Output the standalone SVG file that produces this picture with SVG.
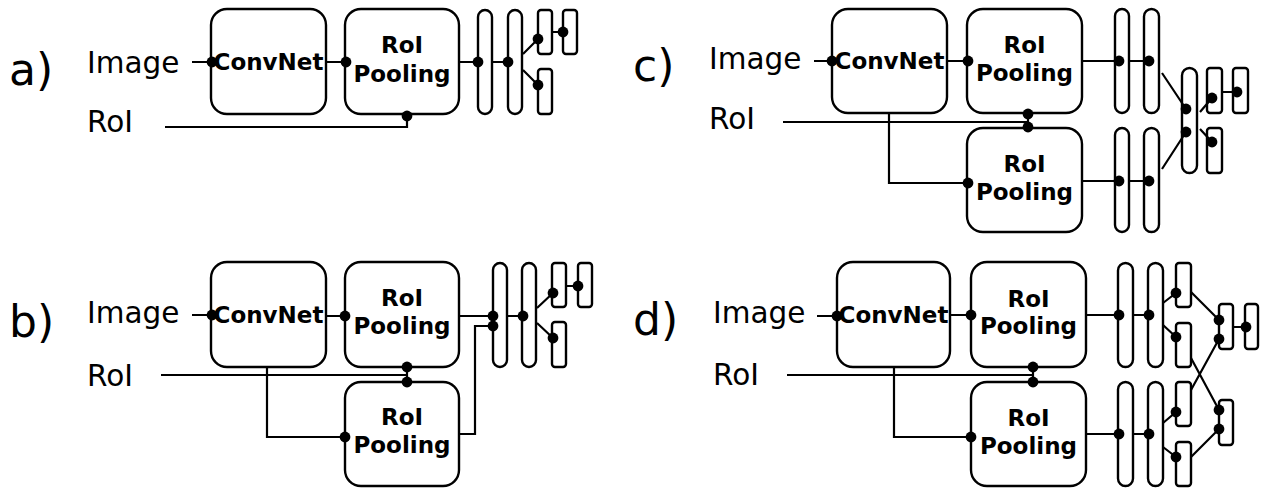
<svg xmlns="http://www.w3.org/2000/svg" width="1268" height="488" viewBox="0 0 1268 488">
  <style>
    .box { fill: #fff; stroke: #000; stroke-width: 2.4; }
    .pill { fill: #fff; stroke: #000; stroke-width: 2.4; }
    .cell { fill: #fff; stroke: #000; stroke-width: 2.4; }
    .wire { fill: none; stroke: #000; stroke-width: 2.2; }
    .dot { fill: #000; }
    .tag { font-family: "DejaVu Sans", "Liberation Sans", sans-serif; font-size: 44px; fill: #000; }
    .lbl { font-family: "DejaVu Sans", "Liberation Sans", sans-serif; font-size: 29.5px; fill: #000; }
    .bt { font-family: "DejaVu Sans", "Liberation Sans", sans-serif; font-weight: bold; font-size: 23px; text-anchor: middle; fill: #000; }
  </style>

  <!-- ===================== a) ===================== -->
  <g id="a">
    <text class="tag" x="9" y="85">a)</text>
    <text class="lbl" x="87" y="73">Image</text>
    <text class="lbl" x="87" y="132">RoI</text>
    <g id="a-convnet"><rect class="box" x="211" y="9" width="115" height="105" rx="16"/><text class="bt" x="268.5" y="70">ConvNet</text></g>
    <g id="a-pool"><rect class="box" x="345" y="9" width="114" height="105" rx="16"/><text class="bt" x="402" y="53">RoI</text><text class="bt" x="402" y="82">Pooling</text></g>
    <g id="a-fc1"><rect class="pill" x="478" y="10" width="14" height="104" rx="7"/></g>
    <g id="a-fc2"><rect class="pill" x="508" y="10" width="14" height="104" rx="7"/></g>
    <g id="a-cls"><rect class="cell" x="538" y="10" width="14" height="44" rx="3"/></g>
    <g id="a-reg"><rect class="cell" x="538" y="69" width="14" height="45" rx="3"/></g>
    <g id="a-out"><rect class="cell" x="563" y="10" width="14" height="44" rx="3"/></g>
    <g id="a-links">
      <path class="wire" d="M192 62H212 M326 62H346 M165 127H407V116 M459 62H478 M492 62H508 M523 54L538 39 M523 70L538 85 M552 32H563"/>
      <circle class="dot" cx="212" cy="62" r="5.4"/>
      <circle class="dot" cx="346" cy="62" r="5.4"/>
      <circle class="dot" cx="407" cy="116" r="5.4"/>
      <circle class="dot" cx="478" cy="62" r="5.4"/>
      <circle class="dot" cx="508" cy="62" r="5.4"/>
      <circle class="dot" cx="538" cy="39" r="5.4"/>
      <circle class="dot" cx="538" cy="85" r="5.4"/>
      <circle class="dot" cx="563" cy="32" r="5.4"/>
    </g>
  </g>

  <!-- ===================== b) ===================== -->
  <g id="b">
    <text class="tag" x="9" y="337">b)</text>
    <text class="lbl" x="87" y="323">Image</text>
    <text class="lbl" x="87" y="386">RoI</text>
    <g id="b-convnet"><rect class="box" x="211" y="262" width="115" height="105" rx="16"/><text class="bt" x="268.5" y="323">ConvNet</text></g>
    <g id="b-pool1"><rect class="box" x="345" y="262" width="114" height="105" rx="16"/><text class="bt" x="402" y="306">RoI</text><text class="bt" x="402" y="334">Pooling</text></g>
    <g id="b-pool2"><rect class="box" x="345" y="382" width="114" height="104" rx="16"/><text class="bt" x="402" y="425">RoI</text><text class="bt" x="402" y="453">Pooling</text></g>
    <g id="b-fc1"><rect class="pill" x="493" y="263" width="14" height="104" rx="7"/></g>
    <g id="b-fc2"><rect class="pill" x="522" y="263" width="14" height="104" rx="7"/></g>
    <g id="b-cls"><rect class="cell" x="552" y="263" width="14" height="44" rx="3"/></g>
    <g id="b-reg"><rect class="cell" x="552" y="322" width="14" height="45" rx="3"/></g>
    <g id="b-out"><rect class="cell" x="578" y="263" width="14" height="44" rx="3"/></g>
    <g id="b-links">
      <path class="wire" d="M192 315H212 M326 316H345 M267 367V437H345 M161 375H407 M407 367V382 M459 316H493 M459 434H475V326H493 M507 316H523 M537 308L553 293 M537 323L553 338 M566 286H578"/>
      <circle class="dot" cx="212" cy="315" r="5.4"/>
      <circle class="dot" cx="345" cy="316" r="5.4"/>
      <circle class="dot" cx="345" cy="437" r="5.4"/>
      <circle class="dot" cx="407" cy="367" r="5.4"/>
      <circle class="dot" cx="407" cy="382" r="5.4"/>
      <circle class="dot" cx="493" cy="316" r="5.4"/>
      <circle class="dot" cx="493" cy="326" r="5.4"/>
      <circle class="dot" cx="523" cy="316" r="5.4"/>
      <circle class="dot" cx="553" cy="293" r="5.4"/>
      <circle class="dot" cx="553" cy="338" r="5.4"/>
      <circle class="dot" cx="578" cy="286" r="5.4"/>
    </g>
  </g>

  <!-- ===================== c) ===================== -->
  <g id="c">
    <text class="tag" x="633" y="81">c)</text>
    <text class="lbl" x="709" y="69">Image</text>
    <text class="lbl" x="709" y="129">RoI</text>
    <g id="c-convnet"><rect class="box" x="832" y="9" width="115" height="104" rx="16"/><text class="bt" x="889.5" y="69">ConvNet</text></g>
    <g id="c-pool1"><rect class="box" x="967" y="9" width="115" height="104" rx="16"/><text class="bt" x="1024.5" y="53">RoI</text><text class="bt" x="1024.5" y="81">Pooling</text></g>
    <g id="c-pool2"><rect class="box" x="967" y="128" width="115" height="104" rx="16"/><text class="bt" x="1024.5" y="172">RoI</text><text class="bt" x="1024.5" y="200">Pooling</text></g>
    <g id="c-fc1a"><rect class="pill" x="1115" y="9" width="14" height="104" rx="7"/></g>
    <g id="c-fc2a"><rect class="pill" x="1144" y="9" width="15" height="104" rx="7.5"/></g>
    <g id="c-fc1b"><rect class="pill" x="1115" y="128" width="14" height="104" rx="7"/></g>
    <g id="c-fc2b"><rect class="pill" x="1144" y="128" width="15" height="104" rx="7.5"/></g>
    <g id="c-merge"><rect class="pill" x="1182" y="68" width="15" height="105" rx="7.5"/></g>
    <g id="c-cls"><rect class="cell" x="1207" y="68" width="15" height="45" rx="3"/></g>
    <g id="c-reg"><rect class="cell" x="1207" y="128" width="15" height="45" rx="3"/></g>
    <g id="c-out"><rect class="cell" x="1233" y="68" width="15" height="45" rx="3"/></g>
    <g id="c-links">
      <path class="wire" d="M814 61H832 M947 61H968 M889 113V183H968 M783 122H1028 M1028 114V127 M1082 61H1119 M1129 61H1149 M1082 181H1119 M1129 181H1149 M1162 73L1186 109 M1162 169L1186 132 M1200 112L1212 98 M1200 129L1212 142 M1222 92H1237"/>
      <circle class="dot" cx="832" cy="61" r="5.4"/>
      <circle class="dot" cx="968" cy="61" r="5.4"/>
      <circle class="dot" cx="968" cy="183" r="5.4"/>
      <circle class="dot" cx="1028" cy="114" r="5.4"/>
      <circle class="dot" cx="1028" cy="127" r="5.4"/>
      <circle class="dot" cx="1119" cy="61" r="5.4"/>
      <circle class="dot" cx="1149" cy="61" r="5.4"/>
      <circle class="dot" cx="1119" cy="181" r="5.4"/>
      <circle class="dot" cx="1149" cy="181" r="5.4"/>
      <circle class="dot" cx="1186" cy="109" r="5.4"/>
      <circle class="dot" cx="1186" cy="132" r="5.4"/>
      <circle class="dot" cx="1212" cy="98" r="5.4"/>
      <circle class="dot" cx="1212" cy="142" r="5.4"/>
      <circle class="dot" cx="1237" cy="92" r="5.4"/>
    </g>
  </g>

  <!-- ===================== d) ===================== -->
  <g id="d">
    <text class="tag" x="633" y="335">d)</text>
    <text class="lbl" x="713" y="323">Image</text>
    <text class="lbl" x="713" y="385">RoI</text>
    <g id="d-convnet"><rect class="box" x="837" y="262" width="113" height="105" rx="16"/><text class="bt" x="893.5" y="323">ConvNet</text></g>
    <g id="d-pool1"><rect class="box" x="971" y="262" width="115" height="105" rx="16"/><text class="bt" x="1028.5" y="307">RoI</text><text class="bt" x="1028.5" y="334">Pooling</text></g>
    <g id="d-pool2"><rect class="box" x="971" y="382" width="115" height="104" rx="16"/><text class="bt" x="1028.5" y="426">RoI</text><text class="bt" x="1028.5" y="454">Pooling</text></g>
    <g id="d-fc1a"><rect class="pill" x="1118" y="263" width="15" height="104" rx="7.5"/></g>
    <g id="d-fc2a"><rect class="pill" x="1148" y="263" width="15" height="104" rx="7.5"/></g>
    <g id="d-fc1b"><rect class="pill" x="1118" y="382" width="15" height="104" rx="7.5"/></g>
    <g id="d-fc2b"><rect class="pill" x="1148" y="382" width="15" height="104" rx="7.5"/></g>
    <g id="d-clsa"><rect class="cell" x="1176" y="263" width="15" height="44" rx="3"/></g>
    <g id="d-rega"><rect class="cell" x="1176" y="323" width="15" height="44" rx="3"/></g>
    <g id="d-clsb"><rect class="cell" x="1176" y="382" width="15" height="44" rx="3"/></g>
    <g id="d-regb"><rect class="cell" x="1176" y="442" width="15" height="44" rx="3"/></g>
    <g id="d-cls"><rect class="cell" x="1219" y="304" width="14" height="45" rx="3"/></g>
    <g id="d-reg"><rect class="cell" x="1219" y="400" width="14" height="45" rx="3"/></g>
    <g id="d-out"><rect class="cell" x="1245" y="304" width="13" height="45" rx="3"/></g>
    <g id="d-links">
      <path class="wire" d="M817 316H837 M950 315H971 M894 367V437H971 M787 375H1033 M1033 367V382 M1086 315H1119 M1133 315H1149 M1086 434H1119 M1133 434H1149 M1163 303L1176 293 M1163 325L1176 337 M1163 423L1176 412 M1163 447L1176 457 M1191 292L1219 320 M1191 390L1219 339 M1191 358L1219 410 M1191 457L1219 429 M1233 327H1246"/>
      <circle class="dot" cx="837" cy="316" r="5.4"/>
      <circle class="dot" cx="971" cy="315" r="5.4"/>
      <circle class="dot" cx="971" cy="437" r="5.4"/>
      <circle class="dot" cx="1033" cy="367" r="5.4"/>
      <circle class="dot" cx="1033" cy="382" r="5.4"/>
      <circle class="dot" cx="1119" cy="315" r="5.4"/>
      <circle class="dot" cx="1149" cy="315" r="5.4"/>
      <circle class="dot" cx="1119" cy="434" r="5.4"/>
      <circle class="dot" cx="1149" cy="434" r="5.4"/>
      <circle class="dot" cx="1176" cy="293" r="5.4"/>
      <circle class="dot" cx="1176" cy="337" r="5.4"/>
      <circle class="dot" cx="1176" cy="412" r="5.4"/>
      <circle class="dot" cx="1176" cy="457" r="5.4"/>
      <circle class="dot" cx="1219" cy="320" r="5.4"/>
      <circle class="dot" cx="1219" cy="339" r="5.4"/>
      <circle class="dot" cx="1219" cy="410" r="5.4"/>
      <circle class="dot" cx="1219" cy="429" r="5.4"/>
      <circle class="dot" cx="1246" cy="327" r="5.4"/>
    </g>
  </g>
</svg>
